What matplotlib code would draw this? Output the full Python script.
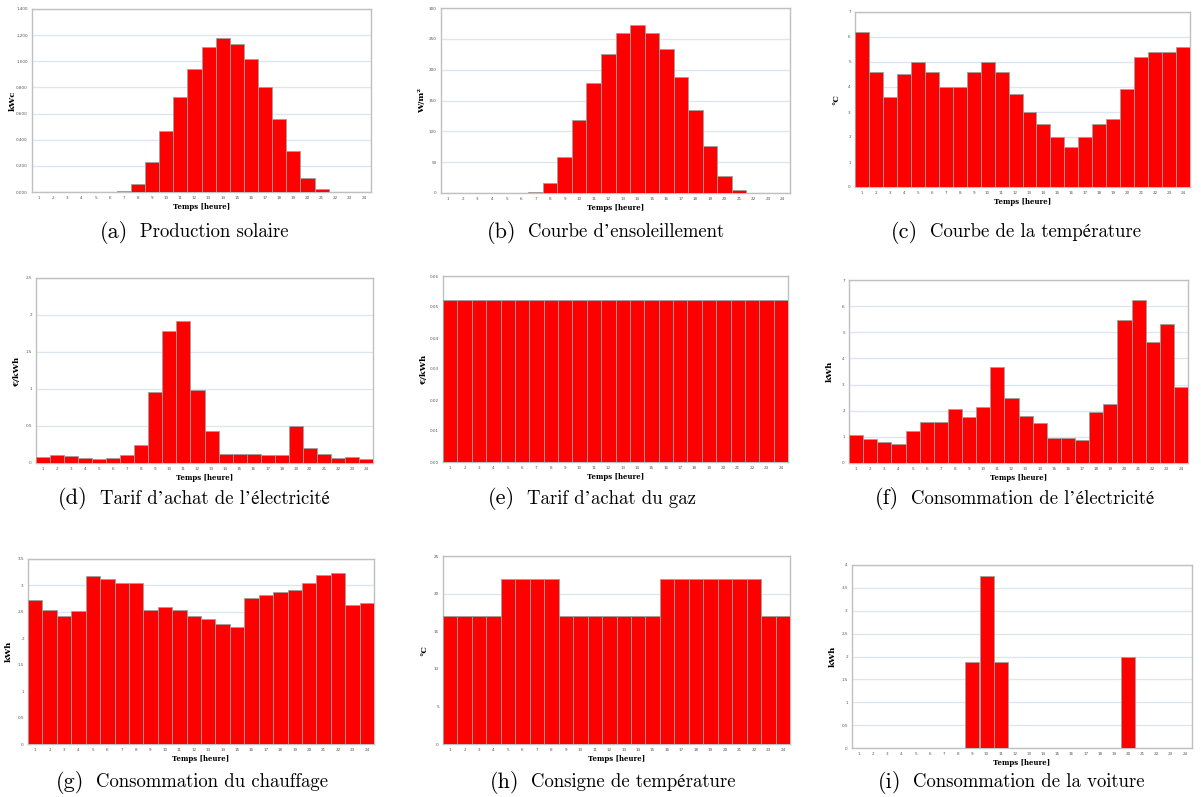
import numpy as np
import matplotlib
matplotlib.use("Agg")
import matplotlib.pyplot as plt

hours = list(range(1, 25))

production_solaire = [0, 0, 0, 0, 0, 0, 0.005, 0.06, 0.23, 0.47, 0.73, 0.94,
                      1.11, 1.18, 1.13, 1.02, 0.80, 0.56, 0.31, 0.11, 0.02, 0, 0, 0]
ensoleillement = [0, 0, 0, 0, 0, 0, 1, 16, 58, 118, 178, 225,
                  259, 272, 259, 233, 188, 135, 76, 28, 5, 0, 0, 0]
temperature = [6.2, 4.6, 3.6, 4.5, 5.0, 4.6, 4.0, 4.0, 4.6, 5.0, 4.6, 3.7,
               3.0, 2.5, 2.0, 1.6, 2.0, 2.5, 2.7, 3.9, 5.2, 5.4, 5.4, 5.6]
tarif_elec = [0.08, 0.11, 0.09, 0.07, 0.06, 0.07, 0.11, 0.24, 0.96, 1.78, 1.92, 0.98,
              0.43, 0.12, 0.12, 0.12, 0.11, 0.11, 0.50, 0.20, 0.12, 0.07, 0.08, 0.06]
tarif_gaz = [0.0524] * 24
conso_elec = [1.07, 0.93, 0.79, 0.74, 1.22, 1.56, 1.56, 2.05, 1.76, 2.14, 3.69, 2.49,
              1.80, 1.53, 0.96, 0.96, 0.88, 1.95, 2.26, 5.48, 6.24, 4.63, 5.32, 2.91]
conso_chauffage = [2.72, 2.53, 2.42, 2.52, 3.17, 3.13, 3.05, 3.05, 2.53, 2.59, 2.53, 2.43,
                   2.36, 2.27, 2.21, 2.76, 2.82, 2.87, 2.91, 3.04, 3.19, 3.23, 2.63, 2.67]
consigne = [17, 17, 17, 17, 22, 22, 22, 22, 17, 17, 17, 17,
            17, 17, 17, 22, 22, 22, 22, 22, 22, 22, 17, 17]
conso_voiture = [0, 0, 0, 0, 0, 0, 0, 0, 1.875, 3.75, 1.875, 0,
                 0, 0, 0, 0, 0, 0, 0, 2.0, 0, 0, 0, 0]

W, H = 1201, 797

# (series, ylabel, ymax, ystep, tick fmt, axes box px [left, top, right, bottom], letter, caption, caption x, caption y)
panels = [
    (production_solaire, "kWc", 1.4, 0.2, "{:.3f}", [32, 9, 371, 192], "(a)", "Production solaire", 140, 232),
    (ensoleillement, "W/m²", 300, 50, "{:.0f}", [441, 8, 790, 193], "(b)", "Courbe d’ensoleillement", 528, 232),
    (temperature, "°C", 7, 1, "{:.0f}", [855, 12, 1190, 187], "(c)", "Courbe de la température", 930, 232),
    (tarif_elec, "€/kWh", 2.5, 0.5, "{:g}", [36, 278, 373, 463], "(d)", "Tarif d’achat de l’électricité", 100, 499),
    (tarif_gaz, "€/kWh", 0.06, 0.01, "{:.2f}", [443, 276, 788, 462], "(e)", "Tarif d’achat du gaz", 527, 499),
    (conso_elec, "kWh", 7, 1, "{:.0f}", [849, 280, 1188, 463], "(f)", "Consommation de l’électricité", 911, 499),
    (conso_chauffage, "kWh", 3.5, 0.5, "{:g}", [28, 559, 374, 744], "(g)", "Consommation du chauffage", 96, 782),
    (consigne, "°C", 25, 5, "{:.0f}", [443, 556, 790, 744], "(h)", "Consigne de température", 531, 782),
    (conso_voiture, "kWh", 4, 0.5, "{:g}", [852, 565, 1192, 748], "(i)", "Consommation de la voiture", 913, 782),
]

fig = plt.figure(figsize=(W / 100, H / 100), dpi=100)
serif = ["cmr10", "STIXGeneral", "DejaVu Serif"]

for data, ylab, ymax, ystep, fmt, box, letter, caption, cx, cy in panels:
    l, t, r, b = box
    ax = fig.add_axes([l / W, 1 - b / H, (r - l) / W, (b - t) / H])
    ax.bar(hours, data, width=1.0, color="#ff0000", edgecolor="#a0a0a0", linewidth=0.6, zorder=3)
    ax.set_xlim(0.5, 24.5)
    ax.set_ylim(0, ymax)
    yt = np.arange(0, ymax + ystep / 2, ystep)
    ax.set_yticks(yt)
    ax.set_yticklabels([fmt.format(v) for v in yt])
    ax.set_xticks(hours)
    ax.tick_params(length=0, labelsize=3, colors="#555555", pad=3)
    ax.grid(axis="y", color="#dce6f2", linewidth=1, zorder=0)
    for s in ax.spines.values():
        s.set_color("#c0c0c0")
        s.set_linewidth(1)
    ax.set_xlabel("Temps [heure]", fontsize=5, fontweight="bold", family="DejaVu Serif", labelpad=2)
    ax.set_ylabel(ylab, fontsize=6, fontweight="bold", family="DejaVu Serif")
    ax.yaxis.set_label_coords(-15 / (r - l), 0.5)
    fig.text((cx - 12) / W, 1 - cy / H, letter, ha="right", va="center", fontsize=16, family=serif)
    fig.text(cx / W, 1 - cy / H, caption, ha="left", va="center", fontsize=13.5, family=serif)

fig.savefig("out.png", dpi=100)
